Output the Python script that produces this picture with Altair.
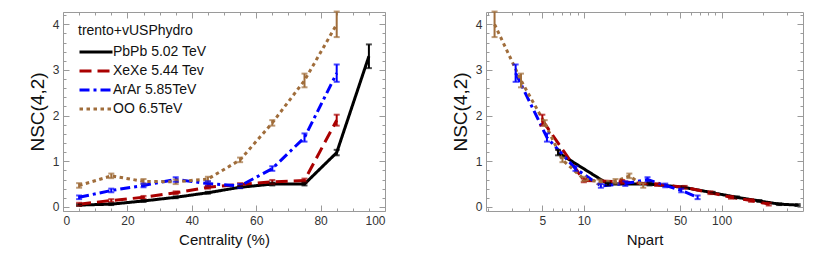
import altair as alt
import pandas as pd

# ---------------- data ----------------
centrality = [5, 15, 25, 35, 45, 55, 65, 75, 85, 95]
systems = ["PbPb 5.02 TeV", "XeXe 5.44 Tev", "ArAr 5.85TeV", "OO 6.5TeV"]
colors = ["#000000", "#aa0000", "#0000ff", "#a06d3b"]
dashes = [[1, 0], [12, 6], [10, 4, 3, 4], [3.5, 3.5]]

pbpb_nsc = [0.04, 0.06, 0.13, 0.21, 0.31, 0.43, 0.50, 0.50, 1.19, 3.30]
pbpb_err = [0.02, 0.02, 0.02, 0.02, 0.02, 0.02, 0.03, 0.03, 0.06, 0.26]
pbpb_npart = [357, 262, 188, 129, 86, 53, 30, 15, 6.5, None]

xexe_nsc = [0.06, 0.14, 0.21, 0.31, 0.43, 0.49, 0.55, 0.58, 1.90]
xexe_err = [0.03, 0.03, 0.03, 0.03, 0.03, 0.03, 0.04, 0.04, 0.12]
xexe_npart = [220, 164, 117, 83, 54, 34, 19, 10, 5.0]

arar_nsc = [0.21, 0.36, 0.47, 0.60, 0.51, 0.46, 0.84, 1.52, 2.93]
arar_err = [0.04, 0.04, 0.04, 0.05, 0.05, 0.04, 0.05, 0.09, 0.19]
arar_npart = [67, 51, 39, 29, 20, 13.3, 8.7, 5.4, 3.2]

oo_nsc = [0.47, 0.68, 0.56, 0.55, 0.61, 1.03, 1.84, 2.77, 4.00]
oo_err = [0.05, 0.05, 0.05, 0.05, 0.05, 0.05, 0.06, 0.15, 0.28]
oo_npart = [27, 21.4, 17, 13, 10, 7, 5.2, 3.5, 2.25]

cent_ticks = [0, 20, 40, 60, 80, 100]
cent_minor = [5, 10, 15, 25, 30, 35, 45, 50, 55, 65, 70, 75, 85, 90, 95]
npart_ticks = [5, 10, 50, 100]
npart_minor = [2, 3, 4, 6, 7, 8, 9, 20, 30, 40, 60, 70, 80, 90, 200, 300]
nsc_ticks = [0, 1, 2, 3, 4]
nsc_minor = [0.2, 0.4, 0.6, 0.8, 1.2, 1.4, 1.6, 1.8, 2.2, 2.4, 2.6, 2.8,
             3.2, 3.4, 3.6, 3.8, 4.2]

rows = []
for i, (name, vals, errs, nps) in enumerate([
        (systems[0], pbpb_nsc, pbpb_err, pbpb_npart),
        (systems[1], xexe_nsc, xexe_err, xexe_npart),
        (systems[2], arar_nsc, arar_err, arar_npart),
        (systems[3], oo_nsc, oo_err, oo_npart)]):
    for c, v, e, n in zip(centrality, vals, errs, nps):
        rows.append(dict(sys=name, k=i, cent=c, nsc=v, lo=v - e, hi=v + e,
                         npart=n))
df = pd.DataFrame(rows)

FONT = "Liberation Sans"
color_scale = alt.Scale(domain=systems, range=colors)
dash_scale = alt.Scale(domain=systems, range=dashes)

AX = dict(domain=False, grid=False, tickColor="#9a9a9a", tickWidth=1,
          labelFont=FONT, labelFontSize=12, labelColor="#333333",
          titleFont=FONT, titleColor="#111111", titleFontWeight="normal")


def axis(orient, values, major, labels, title=None, **kw):
    size = -6 if major else -3
    return alt.Axis(orient=orient, values=values, labels=labels,
                    tickSize=alt.ExprRef(expr=str(size)),
                    labelPadding=10, title=title, **AX, **kw)


def panel(xf, xscale, xtitle, xmaj, xmin, legend, w):
    ysc = alt.Scale(domain=[-0.09, 4.27], nice=False, zero=False)
    data = alt.Chart(df)
    if xf == "npart":
        data = data.transform_filter("isValid(datum.npart)")
    if legend:
        leg = alt.Legend(title="trento+vUSPhydro", orient="none",
                         legendX=15, legendY=12, symbolType="M-3.3,0L3.3,0",
                         symbolSize=100, symbolStrokeWidth=3,
                         symbolOffset=11, labelOffset=10,
                         titleFontSize=14, titleFontWeight="normal",
                         titlePadding=7, rowPadding=5, padding=0)
    else:
        leg = None
    col = alt.Color("sys:N", scale=color_scale, legend=leg, sort=systems)
    dsh = alt.StrokeDash("sys:N", scale=dash_scale, legend=leg, sort=systems)

    lines = data.mark_line(strokeWidth=3).encode(
        x=alt.X(f"{xf}:Q", scale=xscale,
                axis=axis("bottom", xmaj, major=True, labels=True, title=xtitle,
                          titleFontSize=15, titlePadding=6)),
        y=alt.Y("nsc:Q", scale=ysc,
                axis=axis("left", nsc_ticks, major=True, labels=True,
                          title="NSC(4,2)", titleFontSize=19, titlePadding=5)),
        color=col, strokeDash=dsh, detail="sys:N",
        order=alt.Order(f"{xf}:Q"),
    )
    bars = data.mark_rule(strokeWidth=2).encode(
        x=alt.X(f"{xf}:Q", scale=xscale,
                axis=axis("top", xmaj, major=True, labels=False)),
        y=alt.Y("lo:Q", scale=ysc,
                axis=axis("right", nsc_ticks, major=True, labels=False)),
        y2="hi:Q",
        color=alt.Color("sys:N", scale=color_scale, legend=None),
    )
    cap_lo = data.mark_tick(orient="horizontal", size=6, thickness=2).encode(
        x=alt.X(f"{xf}:Q", scale=xscale,
                axis=axis("bottom", xmin, major=False, labels=False)),
        y=alt.Y("lo:Q", scale=ysc,
                axis=axis("left", nsc_minor, major=False, labels=False)),
        color=alt.Color("sys:N", scale=color_scale, legend=None),
    )
    cap_hi = data.mark_tick(orient="horizontal", size=6, thickness=2).encode(
        x=alt.X(f"{xf}:Q", scale=xscale,
                axis=axis("top", xmin, major=False, labels=False)),
        y=alt.Y("hi:Q", scale=ysc,
                axis=axis("right", nsc_minor, major=False, labels=False)),
        color=alt.Color("sys:N", scale=color_scale, legend=None),
    )
    return alt.layer(lines, bars, cap_lo, cap_hi).resolve_axis(
        x="independent", y="independent").properties(width=w, height=199)


left = panel("cent", alt.Scale(domain=[0, 100], nice=False, zero=False),
             "Centrality (%)", cent_ticks, cent_minor, True, 322)
right = panel("npart", alt.Scale(type="log", domain=[1.95, 390], nice=False),
              "Npart", npart_ticks, npart_minor, False, 317)

chart = alt.hconcat(left, right, spacing=64).properties(
    padding={"left": 19, "top": 2, "right": 5, "bottom": 5}
).configure(
    background="white",
    style={"guide-title": {"fontWeight": "normal", "font": FONT}},
).configure_view(
    stroke="#9a9a9a", strokeWidth=1
).configure_legend(
    titleFont=FONT, titleFontSize=14, titleFontWeight="normal",
    titleColor="#111111", titleLimit=300,
    labelFont=FONT, labelFontSize=14, labelColor="#111111", labelLimit=300,
)

chart.save("out.html", embed_options={"renderer": "svg", "actions": False})
